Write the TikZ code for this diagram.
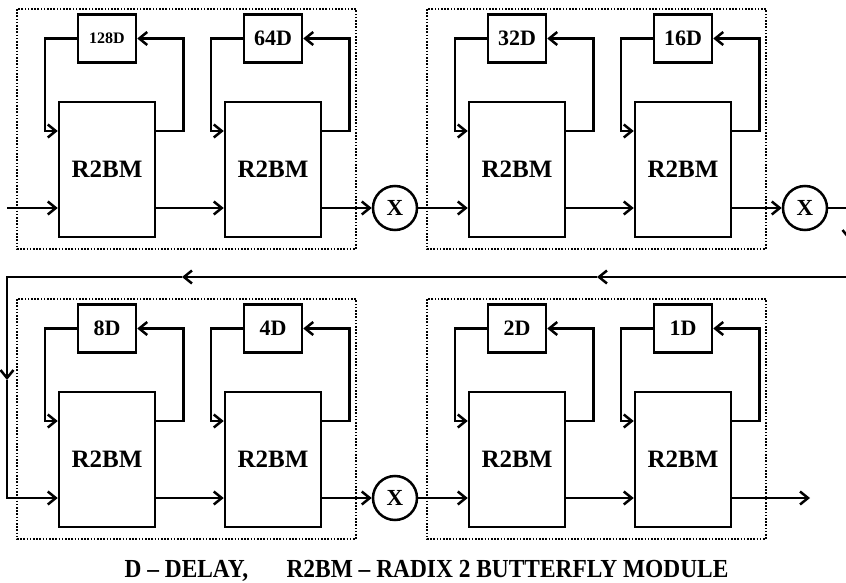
\documentclass[tikz,border=0pt]{standalone}
\usepackage{fontspec}
\setmainfont{Liberation Serif}
\newfontfamily\keyfont[FakeStretch=0.9]{Liberation Serif}
\usetikzlibrary{positioning,arrows.meta}

\begin{document}
\begin{tikzpicture}[x=1pt,y=-1pt,line width=2.5pt,
    bm/.style={draw,minimum width=96pt,minimum height=135pt,inner sep=0pt,
      font=\bfseries\fontsize{25}{25}\selectfont},
    delay/.style={draw,minimum width=58pt,minimum height=48pt,inner sep=0pt},
    mult/.style={draw,circle,minimum size=44pt,inner sep=0pt,
      font=\bfseries\fontsize{23}{23}\selectfont},
    sig/.style={-{Straight Barb[length=8pt,width=13pt]}},
    stage/.style={line width=1.6pt,dash pattern=on 1.6pt off 1.6pt},
    key/.style={anchor=base west,font=\keyfont\bfseries\fontsize{26}{26}\selectfont}]
  \useasboundingbox (0,0) rectangle (846,583);
  % dotted stage frames
  \draw[stage] (17,9) rectangle (356,249);
  \draw[stage] (427,9) rectangle (766,249);
  \draw[stage] (17,299) rectangle (356,539);
  \draw[stage] (427,299) rectangle (766,539);
  % butterfly modules with their delay loops
  \foreach \n/\x/\y/\dl/\fs in {1/107/169.5/128D/16, 2/273/169.5/64D/22,
      3/517/169.5/32D/22, 4/683/169.5/16D/22, 5/107/459.5/8D/22,
      6/273/459.5/4D/22, 7/517/459.5/2D/22, 8/683/459.5/1D/22}{
    \node[bm] (bm\n) at (\x,\y) {R2BM};
    \node[delay,above=37pt of bm\n,font=\bfseries\fontsize{\fs}{\fs}\selectfont] (d\n) {\dl};
    \draw[sig] ([yshift=38.5pt]bm\n.east) -- ++(27,0) |- (d\n.east);
    \draw[sig] (d\n.west) -- ++(-32,0) |- ([yshift=38.5pt]bm\n.west);}
  \node[mult] (m1) at (395,208) {X};
  \node[mult] (m2) at (805,208) {X};
  \node[mult] (m3) at (395,498) {X};
  \coordinate (in) at (7,208);
  \coordinate (out) at (810,498);
  \coordinate (rb) at (849,240);
  \coordinate (rd) at (597,277);
  \coordinate (re) at (182,277);
  \coordinate (rf) at (7,380);
  % forward path
  \draw[sig] (in) -- ([yshift=-38.5pt]bm1.west);
  \draw[sig] ([yshift=-38.5pt]bm1.east) -- ([yshift=-38.5pt]bm2.west);
  \draw[sig] ([yshift=-38.5pt]bm2.east) -- (m1.west);
  \draw[sig] (m1.east) -- ([yshift=-38.5pt]bm3.west);
  \draw[sig] ([yshift=-38.5pt]bm3.east) -- ([yshift=-38.5pt]bm4.west);
  \draw[sig] ([yshift=-38.5pt]bm4.east) -- (m2.west);
  % wrap round to second row
  \draw[sig] (m2.east) -| (rb);
  \draw[sig] (rb) |- (rd);
  \draw[sig] (rd) -- (re);
  \draw[sig] (re) -| (rf);
  \draw[sig] (rf) |- ([yshift=-38.5pt]bm5.west);
  \draw[sig] ([yshift=-38.5pt]bm5.east) -- ([yshift=-38.5pt]bm6.west);
  \draw[sig] ([yshift=-38.5pt]bm6.east) -- (m3.west);
  \draw[sig] (m3.east) -- ([yshift=-38.5pt]bm7.west);
  \draw[sig] ([yshift=-38.5pt]bm7.east) -- ([yshift=-38.5pt]bm8.west);
  \draw[sig] ([yshift=-38.5pt]bm8.east) -- (out);
  % legend
  \node[key] (k1) at (120,577) {D – DELAY,};
  \node[key] (k2) at (282,577) {R2BM – RADIX 2 BUTTERFLY MODULE};
\end{tikzpicture}
\end{document}
